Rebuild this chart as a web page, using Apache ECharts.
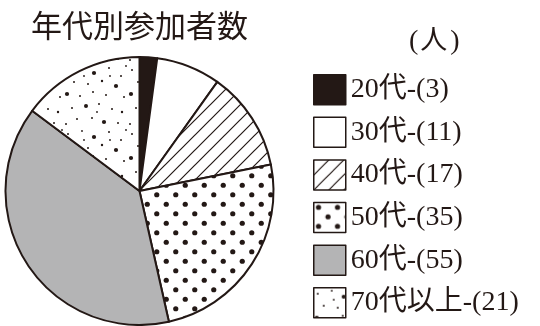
<!DOCTYPE html>
<html><head><meta charset="utf-8">
<script src="https://cdn.jsdelivr.net/npm/echarts@6/dist/echarts.min.js"></script>
<style>html,body{margin:0;padding:0;background:#fff}#c{width:540px;height:326px}</style>
</head><body><div id="c"></div><script>
// Participants by age group
const categories = ['20代', '30代', '40代', '50代', '60代', '70代以上'];
const counts = [3, 11, 17, 35, 55, 21];
const titleText = '年代別参加者数';
const unitText = '人';

const INK = '#231815';

// Fill textures drawn on small canvas tiles
function tile(w, h, draw) {
  const c = document.createElement('canvas');
  c.width = w; c.height = h;
  const g = c.getContext('2d');
  g.fillStyle = '#fff'; g.fillRect(0, 0, w, h);
  g.fillStyle = INK; g.strokeStyle = INK;
  draw(g, w, h);
  return { image: c, repeat: 'repeat' };
}
const hatch = tile(15, 15, (g, w, h) => {
  g.lineWidth = 1.2;
  g.beginPath();
  g.moveTo(-1, h + 1); g.lineTo(w + 1, -1);
  g.moveTo(-2, 2); g.lineTo(2, -2);
  g.moveTo(w - 2, h + 2); g.lineTo(w + 2, h - 2);
  g.stroke();
});
const dotGrid = tile(19, 19, (g) => {
  [[4.75, 4.75], [14.25, 14.25]].forEach(([x, y]) => {
    g.beginPath(); g.arc(x, y, 2.6, 0, Math.PI * 2); g.fill();
  });
});
const scatterDots = [
  [4, 6, 1], [18, 3, 0.9], [30, 9, 2.1], [45, 4, 1], [57, 12, 1], [10, 18, 1],
  [24, 20, 1], [38, 17, 1.2], [52, 22, 2.1], [3, 30, 2.1], [16, 32, 1], [29, 28, 1],
  [42, 31, 1], [60, 33, 1], [8, 44, 1], [22, 42, 2], [35, 40, 1], [48, 45, 1],
  [58, 48, 1.2], [13, 55, 1], [28, 54, 1], [40, 58, 2.1], [54, 59, 1], [2, 60, 1],
  [33, 48, 0.9], [46, 12, 0.9], [20, 12, 0.9], [62, 2, 0.9]
];
const speckle = tile(64, 64, (g) => {
  scatterDots.forEach(([x, y, r]) => {
    g.beginPath(); g.arc(x, y, r, 0, Math.PI * 2); g.fill();
  });
});

const fills = [INK, '#ffffff', hatch, dotGrid, '#b4b4b5', speckle];
const serif = '"Liberation Serif", "Noto Sans CJK JP"';

const chart = echarts.init(document.getElementById('c'), null, { renderer: 'canvas' });
chart.setOption({
  animation: false,
  backgroundColor: '#fff',
  title: {
    text: titleText,
    left: 26, top: 5,
    textStyle: { fontFamily: 'Noto Sans CJK JP', fontSize: 31, fontWeight: 'normal', color: INK }
  },
  graphic: [{
    type: 'text',
    left: 409, top: 28,
    style: {
      text: '{p|(}{k|' + unitText + '}{p|)}',
      fill: INK,
      rich: {
        p: { fontFamily: serif, fontSize: 28, fill: INK },
        k: { fontFamily: serif, fontSize: 27, fill: INK, padding: [0, 3, 0, 2] }
      }
    }
  }],
  legend: {
    orient: 'vertical',
    left: 308, top: 69,
    height: 320,
    itemWidth: 32, itemHeight: 30,
    itemGap: 11.1,
    icon: 'rect',
    selectedMode: false,
    itemStyle: { borderColor: INK, borderWidth: 1.5 },
    textStyle: { fontFamily: serif, fontSize: 28, lineHeight: 30, color: INK },
    formatter: (name) => name + '-(' + counts[categories.indexOf(name)] + ')'
  },
  series: [{
    type: 'pie',
    center: [139.5, 191],
    radius: 134,
    startAngle: 90,
    clockwise: true,
    label: { show: false },
    labelLine: { show: false },
    emphasis: { disabled: true },
    itemStyle: { borderColor: INK, borderWidth: 2 },
    data: categories.map((name, i) => ({ name, value: counts[i], itemStyle: { color: fills[i] } }))
  }]
});
</script></body></html>
